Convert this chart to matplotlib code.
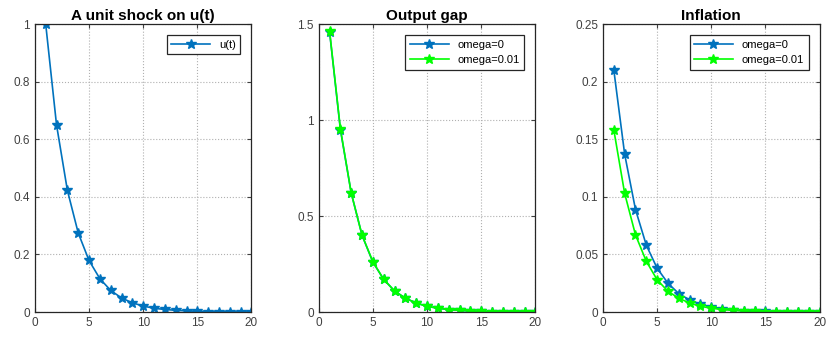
import matplotlib
matplotlib.use('Agg')
import matplotlib.pyplot as plt

plt.rcParams['font.family'] = ['Liberation Sans', 'DejaVu Sans']

# Data
t = list(range(1, 21))
u_shock = [1.0, 0.65, 0.423, 0.275, 0.179, 0.116, 0.075, 0.049, 0.032, 0.021,
           0.013, 0.009, 0.006, 0.004, 0.0025, 0.0016, 0.001, 0.0007, 0.0004, 0.0003]
gap_w0 = [1.46, 0.95, 0.62, 0.40, 0.26, 0.17, 0.11, 0.072, 0.047, 0.030,
          0.020, 0.013, 0.0085, 0.0055, 0.0036, 0.0023, 0.0015, 0.001, 0.0006, 0.0004]
gap_w001 = [1.465, 0.955, 0.62, 0.40, 0.262, 0.17, 0.11, 0.072, 0.047, 0.030,
            0.020, 0.013, 0.0085, 0.0055, 0.0036, 0.0023, 0.0015, 0.001, 0.0006, 0.0004]
infl_w0 = [0.21, 0.137, 0.089, 0.058, 0.038, 0.025, 0.016, 0.0105, 0.0068, 0.0044,
           0.0029, 0.0019, 0.0012, 0.0008, 0.0005, 0.0003, 0.0002, 0.00015, 0.0001, 0.00006]
infl_w001 = [0.158, 0.103, 0.067, 0.044, 0.028, 0.018, 0.012, 0.0078, 0.005, 0.0033,
             0.0022, 0.0014, 0.0009, 0.0006, 0.0004, 0.00025, 0.00016, 0.0001, 0.00007, 0.00004]

blue = '#0072BD'
green = '#00FF00'

fig = plt.figure(figsize=(8.3, 3.53), dpi=100)
lefts = [0.042, 0.384, 0.7265]
axes = [fig.add_axes([l, 0.116, 0.261, 0.816]) for l in lefts]


def style(ax, ylim, yticks, yticklabels, title):
    ax.set_xlim(0, 20)
    ax.set_ylim(*ylim)
    ax.set_xticks([0, 5, 10, 15, 20])
    ax.set_yticks(yticks)
    ax.set_yticklabels(yticklabels)
    ax.set_title(title, fontsize=11, fontweight='bold', pad=3)
    ax.grid(True, linestyle=':', color='#b0b0b0', linewidth=0.8)
    ax.tick_params(labelsize=8.5, colors='#404040', direction='in', length=3,
                   top=True, right=True)
    for s in ax.spines.values():
        s.set_color('#262626')
        s.set_linewidth(0.9)


def legend(ax):
    leg = ax.legend(loc='upper right', fontsize=8, fancybox=False,
                    edgecolor='#262626', framealpha=1, handlelength=3.5,
                    borderaxespad=1.0)
    leg.get_frame().set_linewidth(0.9)


ms = 7.5
ax = axes[0]
ax.plot(t, u_shock, color=blue, marker='*', markersize=ms, lw=1.2, label='u(t)')
style(ax, (0, 1), [0, 0.2, 0.4, 0.6, 0.8, 1], ['0', '0.2', '0.4', '0.6', '0.8', '1'],
      'A unit shock on u(t)')
legend(ax)

ax = axes[1]
ax.plot(t, gap_w0, color=blue, marker='*', markersize=ms, lw=1.2, label='omega=0')
ax.plot(t, gap_w001, color=green, marker='*', markersize=ms, lw=1.2, label='omega=0.01')
style(ax, (0, 1.5), [0, 0.5, 1, 1.5], ['0', '0.5', '1', '1.5'], 'Output gap')
legend(ax)

ax = axes[2]
ax.plot(t, infl_w0, color=blue, marker='*', markersize=ms, lw=1.2, label='omega=0')
ax.plot(t, infl_w001, color=green, marker='*', markersize=ms, lw=1.2, label='omega=0.01')
style(ax, (0, 0.25), [0, 0.05, 0.1, 0.15, 0.2, 0.25],
      ['0', '0.05', '0.1', '0.15', '0.2', '0.25'], 'Inflation')
legend(ax)

fig.savefig('out.png', dpi=100)
